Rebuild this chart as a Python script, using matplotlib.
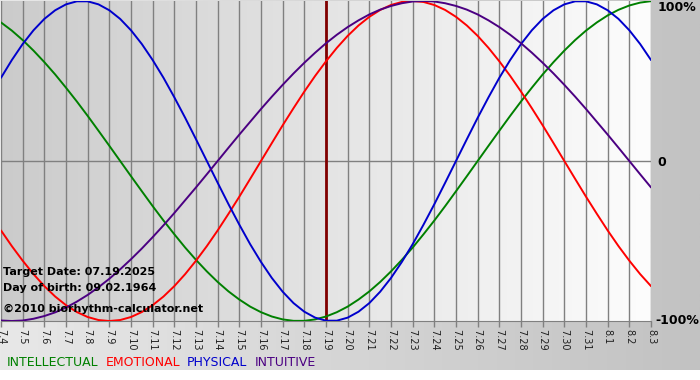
import numpy as np
import matplotlib
matplotlib.use("Agg")
import matplotlib.pyplot as plt
from matplotlib.colors import LinearSegmentedColormap

days = ["7.4", "7.5", "7.6", "7.7", "7.8", "7.9", "7.10", "7.11", "7.12", "7.13",
        "7.14", "7.15", "7.16", "7.17", "7.18", "7.19", "7.20", "7.21", "7.22", "7.23",
        "7.24", "7.25", "7.26", "7.27", "7.28", "7.29", "7.30", "7.31", "8.1", "8.2", "8.3"]

# values in percent, every half day (7.4, 7.4.5, 7.5, ...)
intellectual = [86.6, 81.5, 75.6, 69.0, 61.8, 54.1, 45.8, 37.2, 28.2, 18.9, 9.5, 0,
                -9.5, -18.9, -28.2, -37.2, -45.8, -54.1, -61.8, -69.0, -75.6, -81.5,
                -86.6, -91.0, -94.5, -97.2, -99.0, -99.9, -99.9, -99.0, -97.2, -94.5,
                -91.0, -86.6, -81.5, -75.6, -69.0, -61.8, -54.1, -45.8, -37.2, -28.2,
                -18.9, -9.5, 0, 9.5, 18.9, 28.2, 37.2, 45.8, 54.1, 61.8, 69.0, 75.6,
                81.5, 86.6, 91.0, 94.5, 97.2, 99.0, 99.9]
emotional = [-43.4, -53.2, -62.3, -70.7, -78.2, -84.7, -90.1, -94.4, -97.5, -99.4,
             -100, -99.4, -97.5, -94.4, -90.1, -84.7, -78.2, -70.7, -62.3, -53.2,
             -43.4, -33.0, -22.3, -11.2, 0, 11.2, 22.3, 33.0, 43.4, 53.2, 62.3, 70.7,
             78.2, 84.7, 90.1, 94.4, 97.5, 99.4, 100, 99.4, 97.5, 94.4, 90.1, 84.7,
             78.2, 70.7, 62.3, 53.2, 43.4, 33.0, 22.3, 11.2, 0, -11.2, -22.3, -33.0,
             -43.4, -53.2, -62.3, -70.7, -78.2]
physical = [52.0, 63.1, 73.1, 81.7, 88.8, 94.2, 97.9, 99.8, 99.8, 97.9, 94.2, 88.8,
            81.7, 73.1, 63.1, 52.0, 39.8, 27.0, 13.6, 0, -13.6, -27.0, -39.8, -52.0,
            -63.1, -73.1, -81.7, -88.8, -94.2, -97.9, -99.8, -99.8, -97.9, -94.2,
            -88.8, -81.7, -73.1, -63.1, -52.0, -39.8, -27.0, -13.6, 0, 13.6, 27.0,
            39.8, 52.0, 63.1, 73.1, 81.7, 88.8, 94.2, 97.9, 99.8, 99.8, 97.9, 94.2,
            88.8, 81.7, 73.1, 63.1]
intuitive = [-99.7, -100, -99.7, -98.6, -96.9, -94.6, -91.6, -87.9, -83.7, -78.9,
             -73.6, -67.7, -61.4, -54.7, -47.6, -40.2, -32.5, -24.5, -16.5, -8.3, 0,
             8.3, 16.5, 24.5, 32.5, 40.2, 47.6, 54.7, 61.4, 67.7, 73.6, 78.9, 83.7,
             87.9, 91.6, 94.6, 96.9, 98.6, 99.7, 100, 99.7, 98.6, 96.9, 94.6, 91.6,
             87.9, 83.7, 78.9, 73.6, 67.7, 61.4, 54.7, 47.6, 40.2, 32.5, 24.5, 16.5,
             8.3, 0, -8.3, -16.5]

target_idx = days.index("7.19")
series = [("INTELLECTUAL", intellectual, "#008000"),
          ("EMOTIONAL", emotional, "#ff0000"),
          ("PHYSICAL", physical, "#0000cc"),
          ("INTUITIVE", intuitive, "#4b0082")]

W, H = 700, 380
fig = plt.figure(figsize=(W / 100, H / 100), dpi=100)
fig.patch.set_facecolor("white")

# page background gradient
bg = fig.add_axes([0, 10 / H, 1, 1 - 10 / H])
bg.imshow(np.linspace(0, 1, 256).reshape(1, -1), aspect="auto",
          cmap=LinearSegmentedColormap.from_list("bg", ["#e8e8e8", "#c2c2c2"]),
          extent=[0, 1, 0, 1])
bg.set_axis_off()

x = np.arange(len(days))
xh = np.arange(len(physical)) / 2
ax = fig.add_axes([1 / W, (H - 321) / H, 650 / W, 320 / H])
ax.imshow(np.linspace(0, 1, 256).reshape(1, -1), aspect="auto",
          cmap=LinearSegmentedColormap.from_list("pl", ["#cbcbcb", "#fdfdfd"]),
          extent=[-0.1, len(days) - 1, -100, 100], zorder=0)
ax.set_xlim(0, len(days) - 1)
ax.set_ylim(-100, 100)

for xi in x:
    ax.axvline(xi, color="#808080", lw=1, zorder=1)
ax.axhline(0, color="#808080", lw=1, zorder=1)
ax.axvline(target_idx, color="#800000", lw=2, zorder=2)

for name, vals, col in series:
    ax.plot(xh, vals, color=col, lw=1.4, zorder=3, solid_capstyle="round")

for s in ["top", "right", "left"]:
    ax.spines[s].set_visible(False)
ax.spines["bottom"].set_color("#808080")
ax.set_yticks([])
ax.set_xticks(x)
ax.set_xticklabels(days, rotation=270, fontsize=7, color="#202020")
ax.tick_params(axis="x", length=4, width=1, color="#808080", pad=1.5)

tr = ax.get_yaxis_transform()
ax.text(1.01, 96, "100%", transform=tr, fontsize=9, fontweight="bold", va="center", ha="left", clip_on=False)
ax.text(1.01, -1, "0", transform=tr, fontsize=9, fontweight="bold", va="center", ha="left", clip_on=False)
ax.text(1.007, -100, "-100%", transform=tr, fontsize=9, fontweight="bold", va="center", ha="left", clip_on=False)

ax.text(2 / 650, 1 - 271 / 320, "Target Date: 07.19.2025", transform=ax.transAxes,
        fontsize=8, fontweight="bold", va="center", zorder=5)
ax.text(2 / 650, 1 - 287 / 320, "Day of birth: 09.02.1964", transform=ax.transAxes,
        fontsize=8, fontweight="bold", va="center", zorder=5)
ax.text(2 / 650, 1 - 308 / 320, "\u00a92010 biorhythm-calculator.net", transform=ax.transAxes,
        fontsize=8, fontweight="bold", va="center", zorder=5)

# legend row
xpos = 7
for name, vals, col in series:
    t = fig.text(xpos / W, 1 - 362 / H, name, color=col, fontsize=9, va="center", ha="left")
    fig.canvas.draw()
    bb = t.get_window_extent()
    xpos = bb.x1 + 7

fig.savefig("out.png", dpi=100, facecolor=fig.get_facecolor())
